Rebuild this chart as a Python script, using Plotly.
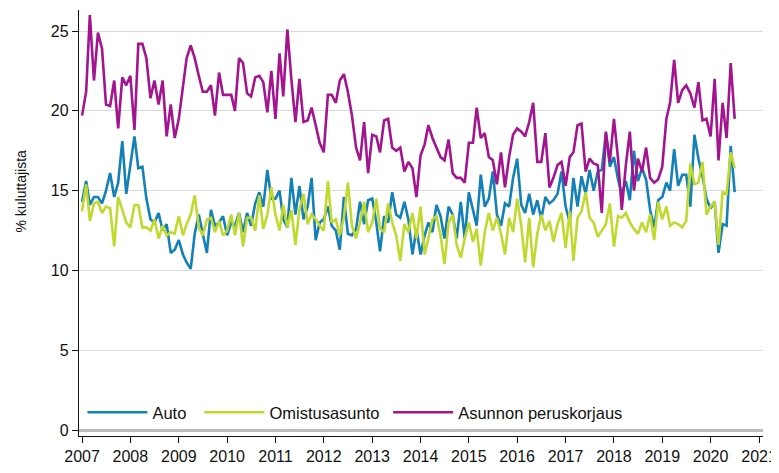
import pandas as pd
import plotly.graph_objects as go

start_month = "2007-01-01"
n_months = 163
months = pd.date_range(start_month, periods=n_months, freq="MS")

auto = [
    14.3, 15.6, 14.1, 14.6, 14.6, 14.2, 15.0, 16.1, 14.6, 15.5, 18.1, 14.8,
    16.6, 18.4, 16.4, 16.5, 14.5, 13.2, 13.0, 13.6, 12.5, 12.9, 11.1, 11.3,
    11.9, 11.0, 10.5, 10.1, 12.3, 13.5, 12.3, 11.1, 13.8, 12.8, 13.0, 13.4,
    12.2, 13.0, 12.8, 13.6, 12.4, 13.6, 12.8, 14.2, 14.9, 14.0, 16.3, 14.5,
    14.5, 15.0, 13.2, 12.7, 15.8, 13.5, 15.3, 13.2, 14.0, 15.8, 11.9, 13.0,
    13.2, 14.0, 12.8, 12.5, 11.3, 14.6, 12.3, 12.2, 12.6, 14.3, 12.9, 14.4,
    14.5, 13.0, 11.2, 13.4, 13.0, 14.9, 13.5, 13.3, 14.3, 13.2, 11.0, 12.6,
    11.0, 12.2, 13.0, 12.4, 14.1, 13.4, 12.0, 14.0, 13.5, 12.0, 14.3, 12.0,
    14.9, 13.7, 12.8, 16.0, 14.0, 14.5, 16.2, 13.5, 12.8, 14.2, 14.0, 15.8,
    17.0, 14.1, 13.6, 14.8, 13.5, 14.4, 13.2, 14.6, 14.2, 14.4, 14.8, 16.2,
    14.0, 13.0, 15.8, 14.0, 15.9, 14.8, 16.3, 15.0, 16.2, 16.3, 18.6, 16.5,
    17.1, 15.7, 14.8, 15.6, 14.4, 17.5, 15.6, 16.4, 15.7, 13.8, 12.7, 14.4,
    14.6, 15.5, 15.0, 17.6, 15.3, 16.0, 16.0, 14.0, 18.5, 17.0, 15.9, 14.5,
    13.9, 14.3, 11.1, 12.9, 12.8, 17.8, 14.9,
]

omistusasunto = [
    13.7, 15.4, 13.1, 14.2, 14.3, 13.6, 14.0, 13.9, 11.5, 14.6, 13.8, 13.0,
    12.7, 14.1, 14.1, 12.7, 12.7, 12.5, 13.2, 12.0, 12.8, 12.2, 12.4, 12.3,
    13.4, 12.2, 12.9, 13.5, 14.7, 12.7, 12.2, 13.2, 13.3, 12.4, 13.1, 12.2,
    12.5, 13.5, 12.2, 13.6, 11.5, 13.3, 13.3, 12.5, 14.7, 12.6, 13.5, 15.2,
    13.5, 12.5, 14.1, 12.7, 13.8, 11.6, 13.8, 14.8, 12.9, 13.5, 13.2, 12.8,
    12.5, 15.6, 13.0, 13.2, 12.2, 13.3, 15.5, 12.8, 12.0, 13.0, 14.3, 12.4,
    13.0, 14.5, 12.6, 12.4, 14.2, 13.0, 12.2, 10.6, 12.9, 12.4, 13.6, 12.0,
    14.0, 11.0, 12.0, 13.2, 13.4, 12.2, 10.4, 13.0, 13.5, 11.6, 10.8, 12.0,
    13.0, 11.8, 12.6, 10.3, 12.4, 13.6, 12.5, 13.3, 12.3, 11.0, 13.3, 12.4,
    14.5, 12.8, 10.5, 13.3, 10.2, 12.3, 13.5, 12.5, 13.1, 11.8, 12.9, 13.6,
    11.4, 13.7, 10.6, 13.3, 13.7, 14.9, 13.3, 13.0, 12.1, 12.5, 12.9, 14.2,
    11.5, 13.4, 13.3, 13.6, 13.0, 12.6, 12.3, 13.0, 12.4, 13.5, 11.9, 14.3,
    13.2, 14.0, 12.8, 13.0, 12.9, 12.7, 13.1, 16.7, 15.4, 15.5, 16.8, 13.5,
    14.0, 14.3, 11.6, 14.9, 14.8, 17.4, 16.4,
]

peruskorjaus = [
    19.7, 21.2, 26.0, 21.9, 24.9, 23.9, 20.4, 20.3, 21.9, 18.9, 22.1, 21.6,
    22.2, 18.8, 24.2, 24.2, 23.3, 20.8, 21.9, 20.4, 21.9, 18.4, 20.4, 18.3,
    19.5, 21.4, 23.3, 24.1, 23.3, 22.2, 21.2, 21.2, 21.6, 19.7, 22.4, 21.0,
    21.0, 21.0, 20.0, 23.3, 23.0, 21.1, 20.9, 22.1, 22.2, 21.8, 19.9, 22.5,
    19.5, 23.6, 20.9, 25.1, 22.0, 19.3, 22.0, 19.3, 19.4, 20.2, 19.1, 18.0,
    17.4, 21.0, 21.0, 20.5, 21.9, 22.3, 21.2, 19.7, 17.7, 16.9, 19.3, 16.1,
    18.5, 18.4, 17.4, 19.4, 19.5, 17.7, 17.5, 17.7, 16.2, 16.8, 16.4, 14.6,
    17.2, 17.9, 19.1, 18.3, 17.7, 17.1, 16.9, 18.2, 16.1, 15.8, 15.8, 15.5,
    18.0, 18.0, 20.2, 18.3, 18.6, 17.1, 16.9, 15.4, 17.4, 15.2, 17.1, 18.5,
    18.9, 18.7, 18.4, 19.3, 20.5, 16.8, 16.8, 18.6, 15.2, 15.8, 16.6, 16.8,
    15.3, 17.1, 17.4, 19.1, 19.2, 16.2, 17.0, 16.7, 16.6, 13.6, 18.7, 16.8,
    19.5, 17.0, 13.8, 16.6, 18.7, 15.0, 17.0, 16.2, 17.7, 15.8, 15.5, 15.7,
    16.5, 19.5, 20.5, 23.2, 20.5, 21.3, 21.6, 21.1, 20.2, 21.8, 19.4, 19.5,
    18.4, 22.0, 16.9, 20.5, 18.3, 23.0, 19.5,
]

series_names = ["Auto", "Omistusasunto", "Asunnon peruskorjaus"]
series_colors = ["#1380B8", "#C0D92F", "#A3148F"]
legend_ids = ["legend", "legend2", "legend3"]
legend_x = [0.005, 0.176, 0.452]
year_ticks = [str(y) for y in range(2007, 2022)]
y_ticks = [0, 5, 10, 15, 20, 25]

fig = go.Figure()
for name, vals, col, lid in zip(series_names, [auto, omistusasunto, peruskorjaus],
                                series_colors, legend_ids):
    fig.add_trace(go.Scatter(
        x=months, y=vals, mode="lines", name=name, legend=lid,
        line=dict(color=col, width=2.6),
    ))

font_family = "Liberation Sans, Arial, sans-serif"

legend_style = dict(
    orientation="h", y=0.055, xanchor="left", yanchor="middle",
    bgcolor="rgba(0,0,0,0)", font=dict(size=16.5, color="#111"),
    itemwidth=60,
)

# the page places the figure 8px from the top-left corner of the window
fig.update_layout(
    width=771, height=465,
    margin=dict(l=71, r=13, t=2, b=37),
    paper_bgcolor="white", plot_bgcolor="white",
    font=dict(family=font_family, size=15, color="#111"),
    showlegend=True,
    legend=dict(x=legend_x[0], **legend_style),
    legend2=dict(x=legend_x[1], **legend_style),
    legend3=dict(x=legend_x[2], **legend_style),
    xaxis=dict(
        type="date",
        range=["2006-12-09", "2021-01-31"],
        tickvals=[f"{y}-01-01" for y in year_ticks],
        ticktext=year_ticks,
        showgrid=False, zeroline=False,
        showline=True, linecolor="#111", linewidth=1.3,
        ticks="outside", ticklen=6, tickcolor="#111", tickwidth=1.3,
        tickfont=dict(size=16, color="#111"),
        ticklabeloverflow="allow",
    ),
    yaxis=dict(
        range=[-0.376, 26.32],
        tickvals=y_ticks,
        showgrid=True, gridcolor="#DADADA", gridwidth=1,
        zeroline=True, zerolinecolor="#BDBDBD", zerolinewidth=3,
        showline=True, linecolor="#111", linewidth=1.3,
        ticks="outside", ticklen=6, tickcolor="#111", tickwidth=1.3,
        tickfont=dict(size=16, color="#111"),
    ),
    annotations=[dict(
        text="% kuluttajista", textangle=-90,
        xref="paper", yref="paper",
        x=-0.084, y=0.575, xanchor="center", yanchor="middle",
        showarrow=False, font=dict(size=14, color="#111"),
    )],
)

fig.write_html("out.html")
